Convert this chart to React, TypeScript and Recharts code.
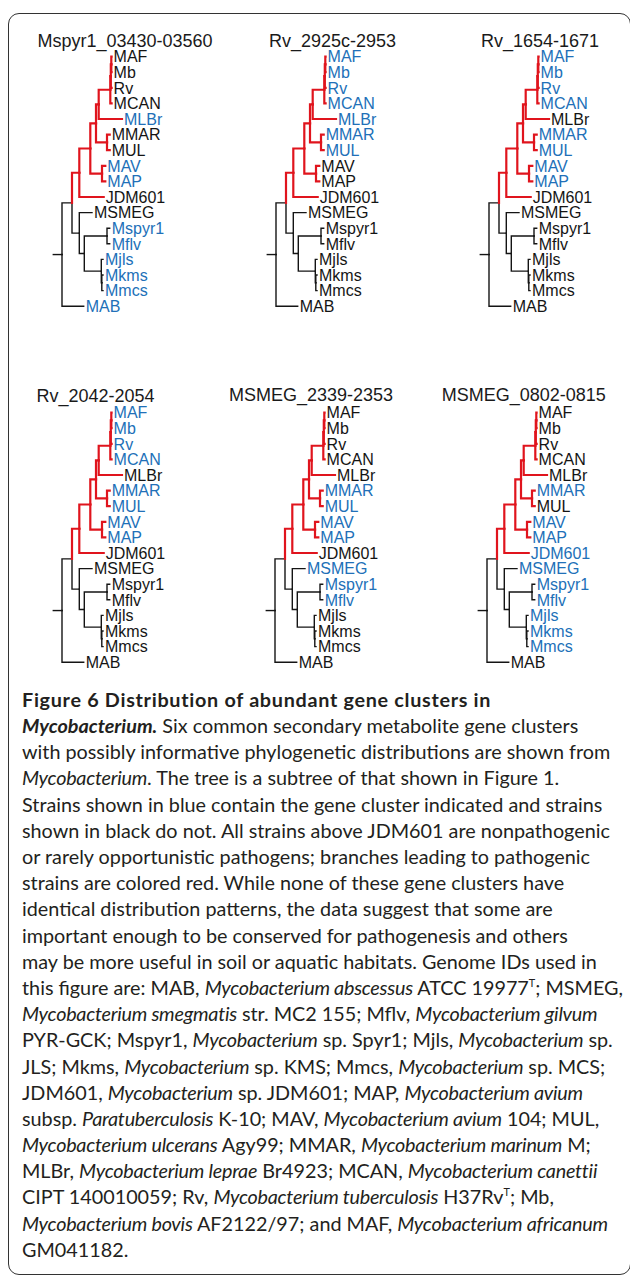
import React from 'react';
import { ScatterChart, Scatter, XAxis, YAxis } from 'recharts';

// leaves, top to bottom
const leafNames = ['MAF', 'Mb', 'Rv', 'MCAN', 'MLBr', 'MMAR', 'MUL', 'MAV', 'MAP', 'JDM601', 'MSMEG', 'Mspyr1', 'Mflv', 'Mjls', 'Mkms', 'Mmcs', 'MAB'];
const leafParents = ['h1', 'h1', 'h2', 'h3', 'g', 'f', 'f', 'd', 'd', 'b', 'i', 'k', 'k', 'l', 'l2', 'l2', 'root'];
const leafDepths = [49.6, 49.6, 49.6, 49.6, 60, 47.7, 47.7, 43.3, 43.3, 41.7, 30, 47.7, 47.7, 41, 41, 41, 21.7];

// internal nodes
const nodeNames = ['root', 'a', 'b', 'c', 'e', 'g', 'h3', 'h2', 'h1', 'f', 'd', 'i', 'j', 'k', 'l', 'l2'];
const nodeParents = [null, 'root', 'a', 'b', 'c', 'e', 'g', 'h3', 'h2', 'e', 'c', 'a', 'i', 'j', 'j', 'l'];
const nodeDepths = [0, 10, 17.3, 28.3, 34, 36.7, 48.3, 48.8, 49.3, 45, 40, 17.3, 22.3, 45, 39.3, 39.8];
const rootStub = -8.7;
const pathogenicClade = 'b';

const clusterNames = ['Mspyr1_03430-03560', 'Rv_2925c-2953', 'Rv_1654-1671', 'Rv_2042-2054', 'MSMEG_2339-2353', 'MSMEG_0802-0815'];
// 1 = strain has the cluster (blue), per leaf in leafNames order
const clusterPresence = [
    [0, 0, 0, 0, 1, 0, 0, 1, 1, 0, 0, 1, 1, 1, 1, 1, 1],
    [1, 1, 1, 1, 1, 1, 1, 0, 0, 0, 0, 0, 0, 0, 0, 0, 0],
    [1, 1, 1, 1, 0, 1, 1, 1, 1, 0, 0, 0, 0, 0, 0, 0, 0],
    [1, 1, 1, 1, 0, 1, 1, 1, 1, 0, 0, 0, 0, 0, 0, 0, 0],
    [0, 0, 0, 0, 0, 1, 1, 1, 1, 0, 1, 1, 1, 0, 0, 0, 0],
    [0, 0, 0, 0, 0, 1, 0, 1, 1, 1, 1, 1, 1, 1, 1, 1, 0],
];

// page layout of the six panels
const panelRootX = [61.7, 276, 489, 61.7, 275, 487];
const panelTopLeafY = [56.7, 56.7, 56.7, 412.3, 412.3, 412.3];
const panelTitleX = [125, 332.5, 540, 95.5, 311, 523.7];
const panelTitleY = [41, 40.5, 40.5, 396, 395, 395];

const RED = '#e0141d';
const BLUE = '#2170b8';
const BLACK = '#141414';
const ROW = 15.6;
const CHART_W = 140;
const CHART_H = 300;
const X_LEFT = -30;

type Pt = { x: number; y: number };
type Branch = { id: string; red: boolean; pts: Pt[] };

function buildTree() {
    const row: Record<string, number> = {};
    const depth: Record<string, number> = {};
    const parent: Record<string, string | null> = {};
    leafNames.forEach((n, i) => {
        row[n] = i;
        depth[n] = leafDepths[i];
        parent[n] = leafParents[i];
    });
    nodeNames.forEach((n, i) => {
        depth[n] = nodeDepths[i];
        parent[n] = nodeParents[i];
    });
    const children: Record<string, string[]> = {};
    Object.keys(parent).forEach((n) => {
        const p = parent[n];
        if (p) (children[p] = children[p] || []).push(n);
    });
    const getRow = (n: string): number => {
        if (row[n] !== undefined) return row[n];
        const rs = children[n].map(getRow);
        row[n] = (Math.min(...rs) + Math.max(...rs)) / 2;
        return row[n];
    };
    getRow('root');
    const isRed = (n: string) => {
        let c: string | null = n;
        while (c) {
            if (c === pathogenicClade) return true;
            c = parent[c];
        }
        return false;
    };
    const branches: Branch[] = Object.keys(parent)
        .filter((n) => parent[n])
        .map((n) => {
            const p = parent[n] as string;
            return {
                id: n,
                red: isRed(n),
                pts: [
                    { x: depth[p], y: row[p] },
                    { x: depth[p], y: row[n] },
                    { x: depth[n], y: row[n] },
                ],
            };
        });
    branches.push({ id: 'stub', red: false, pts: [{ x: rootStub, y: row.root }, { x: 0, y: row.root }] });
    // black first, red on top
    branches.sort((a, b) => Number(a.red) - Number(b.red));
    return branches;
}

const branches = buildTree();

const LeafLabel = (props: any) => {
    const { cx, cy, payload } = props;
    return (
        <text
            x={cx + 2}
            y={cy}
            dy="0.36em"
            fontSize={16}
            fontFamily="'Liberation Sans', Arial, sans-serif"
            fill={payload.has ? BLUE : BLACK}
        >
            {payload.name}
        </text>
    );
};

function TreePanel({ idx }: { idx: number }) {
    const leafData = leafNames.map((name, i) => ({
        x: leafDepths[i],
        y: i,
        name,
        has: clusterPresence[idx][i] === 1,
    }));
    const left = panelRootX[idx] + X_LEFT;
    const top = panelTopLeafY[idx] - ROW;
    return (
        <>
            <div
                style={{
                    position: 'absolute',
                    left: panelTitleX[idx] - 110,
                    width: 220,
                    top: panelTitleY[idx] - 7,
                    height: 14,
                    lineHeight: '14px',
                    textAlign: 'center',
                    fontSize: 18,
                    fontFamily: "'Liberation Sans', Arial, sans-serif",
                    color: '#1a1a1a',
                }}
            >
                {clusterNames[idx]}
            </div>
            <div style={{ position: 'absolute', left, top }}>
                <ScatterChart width={CHART_W} height={CHART_H} margin={{ top: 0, right: 0, bottom: 0, left: 0 }}>
                    <XAxis type="number" dataKey="x" domain={[X_LEFT, X_LEFT + CHART_W]} hide />
                    <YAxis type="number" dataKey="y" domain={[-1, CHART_H / ROW - 1]} reversed hide />
                    {branches.map((b) => (
                        <Scatter
                            key={b.id}
                            data={b.pts}
                            line={{
                                stroke: b.red ? RED : BLACK,
                                strokeWidth: b.red ? 2.2 : 1.4,
                                strokeLinecap: 'square',
                            }}
                            shape={() => <g />}
                            isAnimationActive={false}
                        />
                    ))}
                    <Scatter data={leafData} shape={LeafLabel} isAnimationActive={false} />
                </ScatterChart>
            </div>
        </>
    );
}

type Seg = [string, string];
const captionLines: Seg[][] = [
    [['b', 'Figure 6 Distribution of abundant gene clusters in']],
    [['bi', 'Mycobacterium.'], ['n', ' Six common secondary metabolite gene clusters']],
    [['n', 'with possibly informative phylogenetic distributions are shown from']],
    [['i', 'Mycobacterium'], ['n', '. The tree is a subtree of that shown in Figure 1.']],
    [['n', 'Strains shown in blue contain the gene cluster indicated and strains']],
    [['n', 'shown in black do not. All strains above JDM601 are nonpathogenic']],
    [['n', 'or rarely opportunistic pathogens; branches leading to pathogenic']],
    [['n', 'strains are colored red. While none of these gene clusters have']],
    [['n', 'identical distribution patterns, the data suggest that some are']],
    [['n', 'important enough to be conserved for pathogenesis and others']],
    [['n', 'may be more useful in soil or aquatic habitats. Genome IDs used in']],
    [['n', 'this figure are: MAB, '], ['i', 'Mycobacterium abscessus'], ['n', ' ATCC 19977'], ['s', 'T'], ['n', '; MSMEG,']],
    [['i', 'Mycobacterium smegmatis'], ['n', ' str. MC2 155; Mflv, '], ['i', 'Mycobacterium gilvum']],
    [['n', 'PYR-GCK; Mspyr1, '], ['i', 'Mycobacterium'], ['n', ' sp. Spyr1; Mjls, '], ['i', 'Mycobacterium'], ['n', ' sp.']],
    [['n', 'JLS; Mkms, '], ['i', 'Mycobacterium'], ['n', ' sp. KMS; Mmcs, '], ['i', 'Mycobacterium'], ['n', ' sp. MCS;']],
    [['n', 'JDM601, '], ['i', 'Mycobacterium'], ['n', ' sp. JDM601; MAP, '], ['i', 'Mycobacterium avium']],
    [['n', 'subsp. '], ['i', 'Paratuberculosis'], ['n', ' K-10; MAV, '], ['i', 'Mycobacterium avium'], ['n', ' 104; MUL,']],
    [['i', 'Mycobacterium ulcerans'], ['n', ' Agy99; MMAR, '], ['i', 'Mycobacterium marinum'], ['n', ' M;']],
    [['n', 'MLBr, '], ['i', 'Mycobacterium leprae'], ['n', ' Br4923; MCAN, '], ['i', 'Mycobacterium canettii']],
    [['n', 'CIPT 140010059; Rv, '], ['i', 'Mycobacterium tuberculosis'], ['n', ' H37Rv'], ['s', 'T'], ['n', '; Mb,']],
    [['i', 'Mycobacterium bovis'], ['n', ' AF2122/97; and MAF, '], ['i', 'Mycobacterium africanum']],
    [['n', 'GM041182.']],
];

function segStyle(kind: string): React.CSSProperties {
    if (kind === 'b') return { fontWeight: 700, letterSpacing: '0.7px' };
    if (kind === 'bi') return { fontWeight: 700, fontStyle: 'italic' };
    if (kind === 'i') return { fontStyle: 'italic', letterSpacing: '-0.25px' };
    if (kind === 's') return { fontSize: '0.55em', position: 'relative', top: '-0.75em' };
    return {};
}

export default function App() {
    return (
        <div style={{ position: 'absolute', left: 0, top: 0, width: 630, height: 1276, overflow: 'hidden', background: '#fff' }}>
            <div
                style={{
                    position: 'absolute',
                    left: 8,
                    top: 13,
                    width: 623,
                    height: 1262,
                    boxSizing: 'border-box',
                    border: '1.5px solid #333',
                    borderRadius: 11,
                }}
            />
            {clusterNames.map((_, i) => (
                <TreePanel key={i} idx={i} />
            ))}
            <div
                style={{
                    position: 'absolute',
                    left: 22,
                    top: 699 - 13.1,
                    fontFamily: "Lato, 'Noto Sans', sans-serif",
                    fontSize: 19.8,
                    color: '#231f20',
                    whiteSpace: 'nowrap',
                }}
            >
                {captionLines.map((line, li) => (
                    <div key={li} style={{ height: 26.2, lineHeight: '26.2px' }}>
                        {line.map(([k, t], si) => (
                            <span key={si} style={segStyle(k)}>
                                {t}
                            </span>
                        ))}
                    </div>
                ))}
            </div>
        </div>
    );
}
